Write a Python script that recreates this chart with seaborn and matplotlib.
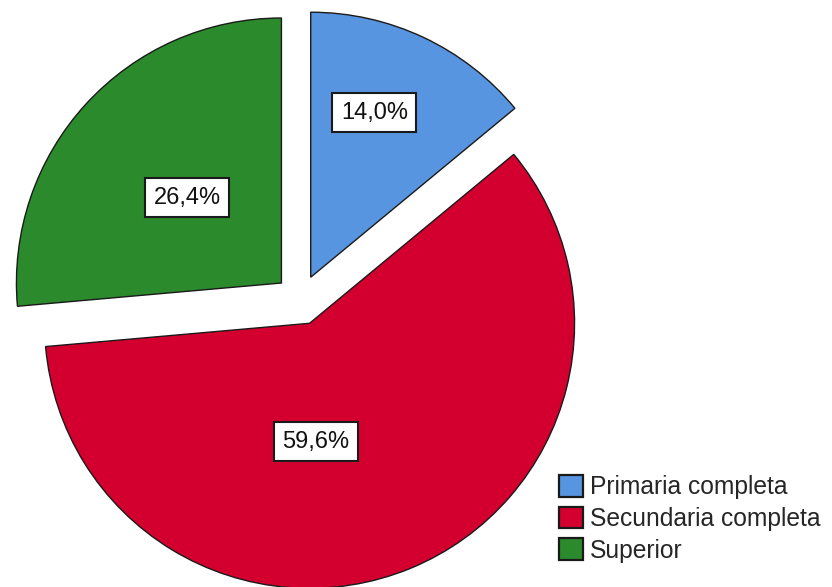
import matplotlib
matplotlib.use("Agg")
import matplotlib.pyplot as plt
import seaborn as sns
import numpy as np

categories = ["Primaria completa", "Secundaria completa", "Superior"]
values = [14.0, 59.6, 26.4]
pct_labels = ["14,0%", "59,6%", "26,4%"]

colors = ["#5895E0", "#D3002F", "#2A8A2C"]
# label placement (radius fraction, angle in degrees) relative to pie center
label_r = [0.76, 0.538, 0.574]
label_theta = [68.3, -83.5, 137.8]

sns.set_theme(style="white")
plt.rcParams["font.family"] = ["Liberation Sans", "DejaVu Sans"]

W, H = 832, 587
fig = plt.figure(figsize=(W / 100, H / 100), dpi=100)
ax = fig.add_axes([0, 0, 1, 1])
R = 265.0
cx, cy = 300.0, 300.0

wedges, _ = ax.pie(
    values,
    colors=colors,
    startangle=90,
    counterclock=False,
    explode=[0.095] * len(values),
    radius=1.0,
    wedgeprops=dict(edgecolor="#1a1a1a", linewidth=1.0),
)
for lab, r, th in zip(pct_labels, label_r, label_theta):
    t = np.deg2rad(th)
    ax.text(r * np.cos(t), r * np.sin(t), lab, ha="center", va="center",
            fontsize=17, color="#111111",
            bbox=dict(boxstyle="square,pad=0.36", facecolor="white",
                      edgecolor="#1a1a1a", linewidth=1.5))

ax.set_xlim(-cx / R, (W - cx) / R)
ax.set_ylim(-(H - cy) / R, cy / R)
ax.set_aspect("equal")
ax.axis("off")

leg = fig.legend(
    wedges, categories,
    loc="upper left", bbox_to_anchor=(559 / W, 1 - 475 / H),
    frameon=False, fontsize=17.7,
    handlelength=0.98, handleheight=0.98, handletextpad=0.28,
    labelspacing=0.3, borderpad=0, borderaxespad=0,
)
for h in leg.legend_handles:
    h.set_edgecolor("#1a1a1a")
    h.set_linewidth(1.6)

fig.savefig("out.png", dpi=100)
